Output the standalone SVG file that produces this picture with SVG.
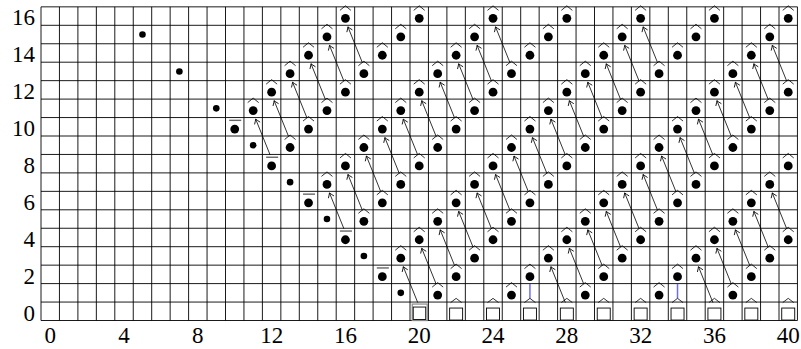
<svg xmlns="http://www.w3.org/2000/svg" xmlns:xlink="http://www.w3.org/1999/xlink" width="801" height="349" viewBox="0 0 801 349">
<style>
.grid{fill:none;stroke:#000;stroke-width:0.9}
.hat{fill:none;stroke:#000;stroke-width:0.8}
.bar{fill:none;stroke:#666;stroke-width:1.4}
.dot{fill:#000}
.sq{fill:#fff;stroke:#000;stroke-width:0.9}
.sqo{fill:none;stroke:#888;stroke-width:1.2}
.arr{fill:none;stroke:#000;stroke-width:0.8;marker-end:url(#ah)}
.blue{stroke:#6b6bff;stroke-width:1.5}
text{font-family:Liberation Serif,serif;font-size:23px;fill:#000}
</style>
<defs>
<marker id="ah" markerUnits="userSpaceOnUse" viewBox="-6 -4 8 8" markerWidth="8" markerHeight="8" refX="0" refY="0" orient="auto">
<path d="M-4.5 -3Q-1.5 -0.8 0 0Q-1.5 0.8 -4.5 3" fill="none" stroke="#000" stroke-width="0.8"/>
</marker>
<g id="hd"><path class="hat" d="M-5.5 3.5L0 -1L5.5 3.5"/><circle class="dot" cy="11.5" r="4.4"/></g>
<g id="bd"><path class="bar" d="M-5.5 2.8H6.5"/><circle class="dot" cy="11.5" r="4.4"/></g>
<g id="sm"><circle class="dot" r="3.3"/></g>
<g id="sqh"><path class="hat" d="M-5.5 0.5L0 -3.7L5.5 0.5"/><rect class="sq" x="-6.5" y="6" width="13" height="12"/></g>
<g id="sqn"><rect class="sqo" x="-7" y="2" width="15" height="16.5"/><rect class="sq" x="-6" y="5" width="12.5" height="12.5"/></g>
</defs>
<g id="grid">
<path class="grid" d="M41 6.85V320.5M59.45 6.85V320.5M77.9 6.85V320.5M96.35 6.85V320.5M114.8 6.85V320.5M133.25 6.85V320.5M151.7 6.85V320.5M170.15 6.85V320.5M188.6 6.85V320.5M207.05 6.85V320.5M225.5 6.85V320.5M243.95 6.85V320.5M262.4 6.85V320.5M280.85 6.85V320.5M299.3 6.85V320.5M317.75 6.85V320.5M336.2 6.85V320.5M354.65 6.85V320.5M373.1 6.85V320.5M391.55 6.85V320.5M410 6.85V320.5M428.45 6.85V320.5M446.9 6.85V320.5M465.35 6.85V320.5M483.8 6.85V320.5M502.25 6.85V320.5M520.7 6.85V320.5M539.15 6.85V320.5M557.6 6.85V320.5M576.05 6.85V320.5M594.5 6.85V320.5M612.95 6.85V320.5M631.4 6.85V320.5M649.85 6.85V320.5M668.3 6.85V320.5M686.75 6.85V320.5M705.2 6.85V320.5M723.65 6.85V320.5M742.1 6.85V320.5M760.55 6.85V320.5M779 6.85V320.5M797.45 6.85V320.5M41 320.5H797.45M41 302.05H797.45M41 283.6H797.45M41 265.15H797.45M41 246.7H797.45M41 228.25H797.45M41 209.8H797.45M41 191.35H797.45M41 172.9H797.45M41 154.45H797.45M41 136H797.45M41 117.55H797.45M41 99.1H797.45M41 80.65H797.45M41 62.2H797.45M41 43.75H797.45M41 25.3H797.45M41 6.85H797.45"/>
</g>
<g id="labels">
<text x="50.23" y="343" text-anchor="middle">0</text>
<text x="124.03" y="343" text-anchor="middle">4</text>
<text x="197.83" y="343" text-anchor="middle">8</text>
<text x="271.63" y="343" text-anchor="middle">12</text>
<text x="345.43" y="343" text-anchor="middle">16</text>
<text x="419.23" y="343" text-anchor="middle">20</text>
<text x="493.03" y="343" text-anchor="middle">24</text>
<text x="566.83" y="343" text-anchor="middle">28</text>
<text x="640.63" y="343" text-anchor="middle">32</text>
<text x="714.43" y="343" text-anchor="middle">36</text>
<text x="788.23" y="343" text-anchor="middle">40</text>
<text x="35" y="320.5" text-anchor="end">0</text>
<text x="35" y="283.6" text-anchor="end">2</text>
<text x="35" y="246.7" text-anchor="end">4</text>
<text x="35" y="209.8" text-anchor="end">6</text>
<text x="35" y="172.9" text-anchor="end">8</text>
<text x="35" y="136" text-anchor="end">10</text>
<text x="35" y="99.1" text-anchor="end">12</text>
<text x="35" y="62.2" text-anchor="end">14</text>
<text x="35" y="25.3" text-anchor="end">16</text>
</g>
<g id="connectors">
<line class="arr" x1="270.13" y1="154.95" x2="255.68" y2="119.1"/>
<line class="arr" x1="288.58" y1="136.5" x2="274.13" y2="100.65"/>
<line class="arr" x1="307.03" y1="118.05" x2="292.58" y2="82.2"/>
<line class="arr" x1="325.48" y1="99.6" x2="311.03" y2="63.75"/>
<line class="arr" x1="343.93" y1="81.15" x2="329.48" y2="45.3"/>
<line class="arr" x1="362.38" y1="62.7" x2="347.93" y2="26.85"/>
<line class="arr" x1="343.93" y1="228.75" x2="329.48" y2="192.9"/>
<line class="arr" x1="362.38" y1="210.3" x2="347.93" y2="174.45"/>
<line class="arr" x1="380.83" y1="191.85" x2="366.38" y2="156"/>
<line class="arr" x1="399.28" y1="173.4" x2="384.83" y2="137.55"/>
<line class="arr" x1="417.73" y1="154.95" x2="403.28" y2="119.1"/>
<line class="arr" x1="436.18" y1="136.5" x2="421.73" y2="100.65"/>
<line class="arr" x1="454.63" y1="118.05" x2="440.18" y2="82.2"/>
<line class="arr" x1="473.08" y1="99.6" x2="458.63" y2="63.75"/>
<line class="arr" x1="491.53" y1="81.15" x2="477.08" y2="45.3"/>
<line class="arr" x1="509.98" y1="62.7" x2="495.53" y2="26.85"/>
<line class="arr" x1="417.73" y1="302.55" x2="403.28" y2="266.7"/>
<line class="arr" x1="436.18" y1="284.1" x2="421.73" y2="248.25"/>
<line class="arr" x1="454.63" y1="265.65" x2="440.18" y2="229.8"/>
<line class="arr" x1="473.08" y1="247.2" x2="458.63" y2="211.35"/>
<line class="arr" x1="491.53" y1="228.75" x2="477.08" y2="192.9"/>
<line class="arr" x1="509.98" y1="210.3" x2="495.53" y2="174.45"/>
<line class="arr" x1="528.43" y1="191.85" x2="513.98" y2="156"/>
<line class="arr" x1="546.88" y1="173.4" x2="532.43" y2="137.55"/>
<line class="arr" x1="565.33" y1="154.95" x2="550.88" y2="119.1"/>
<line class="arr" x1="583.78" y1="136.5" x2="569.33" y2="100.65"/>
<line class="arr" x1="602.23" y1="118.05" x2="587.78" y2="82.2"/>
<line class="arr" x1="620.68" y1="99.6" x2="606.23" y2="63.75"/>
<line class="arr" x1="639.13" y1="81.15" x2="624.68" y2="45.3"/>
<line class="arr" x1="657.58" y1="62.7" x2="643.13" y2="26.85"/>
<line class="arr" x1="565.33" y1="302.55" x2="550.88" y2="266.7"/>
<line class="arr" x1="583.78" y1="284.1" x2="569.33" y2="248.25"/>
<line class="arr" x1="602.23" y1="265.65" x2="587.78" y2="229.8"/>
<line class="arr" x1="620.68" y1="247.2" x2="606.23" y2="211.35"/>
<line class="arr" x1="639.13" y1="228.75" x2="624.68" y2="192.9"/>
<line class="arr" x1="657.58" y1="210.3" x2="643.13" y2="174.45"/>
<line class="arr" x1="676.03" y1="191.85" x2="661.58" y2="156"/>
<line class="arr" x1="694.48" y1="173.4" x2="680.03" y2="137.55"/>
<line class="arr" x1="712.93" y1="154.95" x2="698.48" y2="119.1"/>
<line class="arr" x1="731.38" y1="136.5" x2="716.93" y2="100.65"/>
<line class="arr" x1="749.83" y1="118.05" x2="735.38" y2="82.2"/>
<line class="arr" x1="768.28" y1="99.6" x2="753.83" y2="63.75"/>
<line class="arr" x1="786.73" y1="81.15" x2="772.28" y2="45.3"/>
<line class="arr" x1="712.93" y1="302.55" x2="698.48" y2="266.7"/>
<line class="arr" x1="731.38" y1="284.1" x2="716.93" y2="248.25"/>
<line class="arr" x1="749.83" y1="265.65" x2="735.38" y2="229.8"/>
<line class="arr" x1="768.28" y1="247.2" x2="753.83" y2="211.35"/>
<line class="arr" x1="786.73" y1="228.75" x2="772.28" y2="192.9"/>
<line class="blue" x1="529.93" y1="284" x2="529.93" y2="298.4"/>
<line class="blue" x1="677.53" y1="284" x2="677.53" y2="298.4"/>
</g>
<g id="small-dots">
<g id="s5_15"><use href="#sm" x="142.48" y="34.53"/></g>
<g id="s7_13"><use href="#sm" x="179.38" y="71.43"/></g>
<g id="s9_11"><use href="#sm" x="216.28" y="108.33"/></g>
<g id="s11_9"><use href="#sm" x="253.18" y="145.23"/></g>
<g id="s13_7"><use href="#sm" x="290.08" y="182.13"/></g>
<g id="s15_5"><use href="#sm" x="326.98" y="219.03"/></g>
<g id="s17_3"><use href="#sm" x="363.88" y="255.93"/></g>
<g id="s19_1"><use href="#sm" x="400.78" y="292.83"/></g>
</g>
<g id="bar-dots">
<g id="b10_10"><use href="#bd" x="234.73" y="117.55"/></g>
<g id="b12_8"><use href="#bd" x="271.63" y="154.45"/></g>
<g id="b14_6"><use href="#bd" x="308.53" y="191.35"/></g>
<g id="b16_4"><use href="#bd" x="345.43" y="228.25"/></g>
<g id="b18_2"><use href="#bd" x="382.33" y="265.15"/></g>
</g>
<g id="squares">
<g id="q20_0"><use href="#sqn" x="419.23" y="302.05"/></g>
<g id="q22_0"><use href="#sqh" x="456.13" y="302.05"/></g>
<g id="q24_0"><use href="#sqh" x="493.03" y="302.05"/></g>
<g id="q26_0"><use href="#sqh" x="529.93" y="302.05"/></g>
<g id="q28_0"><use href="#sqh" x="566.83" y="302.05"/></g>
<g id="q30_0"><use href="#sqh" x="603.73" y="302.05"/></g>
<g id="q32_0"><use href="#sqh" x="640.63" y="302.05"/></g>
<g id="q34_0"><use href="#sqh" x="677.53" y="302.05"/></g>
<g id="q36_0"><use href="#sqh" x="714.43" y="302.05"/></g>
<g id="q38_0"><use href="#sqh" x="751.33" y="302.05"/></g>
<g id="q40_0"><use href="#sqh" x="788.23" y="302.05"/></g>
</g>
<g id="hat-dots">
<g id="h11_11"><use href="#hd" x="253.18" y="99.1"/></g>
<g id="h12_12"><use href="#hd" x="271.63" y="80.65"/></g>
<g id="h13_13"><use href="#hd" x="290.08" y="62.2"/></g>
<g id="h14_14"><use href="#hd" x="308.53" y="43.75"/></g>
<g id="h15_15"><use href="#hd" x="326.98" y="25.3"/></g>
<g id="h16_16"><use href="#hd" x="345.43" y="6.85"/></g>
<g id="h13_9"><use href="#hd" x="290.08" y="136"/></g>
<g id="h14_10"><use href="#hd" x="308.53" y="117.55"/></g>
<g id="h15_11"><use href="#hd" x="326.98" y="99.1"/></g>
<g id="h16_12"><use href="#hd" x="345.43" y="80.65"/></g>
<g id="h17_13"><use href="#hd" x="363.88" y="62.2"/></g>
<g id="h18_14"><use href="#hd" x="382.33" y="43.75"/></g>
<g id="h19_15"><use href="#hd" x="400.78" y="25.3"/></g>
<g id="h20_16"><use href="#hd" x="419.23" y="6.85"/></g>
<g id="h15_7"><use href="#hd" x="326.98" y="172.9"/></g>
<g id="h16_8"><use href="#hd" x="345.43" y="154.45"/></g>
<g id="h17_9"><use href="#hd" x="363.88" y="136"/></g>
<g id="h18_10"><use href="#hd" x="382.33" y="117.55"/></g>
<g id="h19_11"><use href="#hd" x="400.78" y="99.1"/></g>
<g id="h20_12"><use href="#hd" x="419.23" y="80.65"/></g>
<g id="h21_13"><use href="#hd" x="437.68" y="62.2"/></g>
<g id="h22_14"><use href="#hd" x="456.13" y="43.75"/></g>
<g id="h23_15"><use href="#hd" x="474.58" y="25.3"/></g>
<g id="h24_16"><use href="#hd" x="493.03" y="6.85"/></g>
<g id="h17_5"><use href="#hd" x="363.88" y="209.8"/></g>
<g id="h18_6"><use href="#hd" x="382.33" y="191.35"/></g>
<g id="h19_7"><use href="#hd" x="400.78" y="172.9"/></g>
<g id="h20_8"><use href="#hd" x="419.23" y="154.45"/></g>
<g id="h21_9"><use href="#hd" x="437.68" y="136"/></g>
<g id="h22_10"><use href="#hd" x="456.13" y="117.55"/></g>
<g id="h23_11"><use href="#hd" x="474.58" y="99.1"/></g>
<g id="h24_12"><use href="#hd" x="493.03" y="80.65"/></g>
<g id="h25_13"><use href="#hd" x="511.48" y="62.2"/></g>
<g id="h26_14"><use href="#hd" x="529.93" y="43.75"/></g>
<g id="h27_15"><use href="#hd" x="548.38" y="25.3"/></g>
<g id="h28_16"><use href="#hd" x="566.83" y="6.85"/></g>
<g id="h19_3"><use href="#hd" x="400.78" y="246.7"/></g>
<g id="h20_4"><use href="#hd" x="419.23" y="228.25"/></g>
<g id="h21_5"><use href="#hd" x="437.68" y="209.8"/></g>
<g id="h22_6"><use href="#hd" x="456.13" y="191.35"/></g>
<g id="h23_7"><use href="#hd" x="474.58" y="172.9"/></g>
<g id="h24_8"><use href="#hd" x="493.03" y="154.45"/></g>
<g id="h25_9"><use href="#hd" x="511.48" y="136"/></g>
<g id="h26_10"><use href="#hd" x="529.93" y="117.55"/></g>
<g id="h27_11"><use href="#hd" x="548.38" y="99.1"/></g>
<g id="h28_12"><use href="#hd" x="566.83" y="80.65"/></g>
<g id="h29_13"><use href="#hd" x="585.28" y="62.2"/></g>
<g id="h30_14"><use href="#hd" x="603.73" y="43.75"/></g>
<g id="h31_15"><use href="#hd" x="622.18" y="25.3"/></g>
<g id="h32_16"><use href="#hd" x="640.63" y="6.85"/></g>
<g id="h21_1"><use href="#hd" x="437.68" y="283.6"/></g>
<g id="h22_2"><use href="#hd" x="456.13" y="265.15"/></g>
<g id="h23_3"><use href="#hd" x="474.58" y="246.7"/></g>
<g id="h24_4"><use href="#hd" x="493.03" y="228.25"/></g>
<g id="h25_5"><use href="#hd" x="511.48" y="209.8"/></g>
<g id="h26_6"><use href="#hd" x="529.93" y="191.35"/></g>
<g id="h27_7"><use href="#hd" x="548.38" y="172.9"/></g>
<g id="h28_8"><use href="#hd" x="566.83" y="154.45"/></g>
<g id="h29_9"><use href="#hd" x="585.28" y="136"/></g>
<g id="h30_10"><use href="#hd" x="603.73" y="117.55"/></g>
<g id="h31_11"><use href="#hd" x="622.18" y="99.1"/></g>
<g id="h32_12"><use href="#hd" x="640.63" y="80.65"/></g>
<g id="h33_13"><use href="#hd" x="659.08" y="62.2"/></g>
<g id="h34_14"><use href="#hd" x="677.53" y="43.75"/></g>
<g id="h35_15"><use href="#hd" x="695.98" y="25.3"/></g>
<g id="h36_16"><use href="#hd" x="714.43" y="6.85"/></g>
<g id="h25_1"><use href="#hd" x="511.48" y="283.6"/></g>
<g id="h26_2"><use href="#hd" x="529.93" y="265.15"/></g>
<g id="h27_3"><use href="#hd" x="548.38" y="246.7"/></g>
<g id="h28_4"><use href="#hd" x="566.83" y="228.25"/></g>
<g id="h29_5"><use href="#hd" x="585.28" y="209.8"/></g>
<g id="h30_6"><use href="#hd" x="603.73" y="191.35"/></g>
<g id="h31_7"><use href="#hd" x="622.18" y="172.9"/></g>
<g id="h32_8"><use href="#hd" x="640.63" y="154.45"/></g>
<g id="h33_9"><use href="#hd" x="659.08" y="136"/></g>
<g id="h34_10"><use href="#hd" x="677.53" y="117.55"/></g>
<g id="h35_11"><use href="#hd" x="695.98" y="99.1"/></g>
<g id="h36_12"><use href="#hd" x="714.43" y="80.65"/></g>
<g id="h37_13"><use href="#hd" x="732.88" y="62.2"/></g>
<g id="h38_14"><use href="#hd" x="751.33" y="43.75"/></g>
<g id="h39_15"><use href="#hd" x="769.78" y="25.3"/></g>
<g id="h40_16"><use href="#hd" x="788.23" y="6.85"/></g>
<g id="h29_1"><use href="#hd" x="585.28" y="283.6"/></g>
<g id="h30_2"><use href="#hd" x="603.73" y="265.15"/></g>
<g id="h31_3"><use href="#hd" x="622.18" y="246.7"/></g>
<g id="h32_4"><use href="#hd" x="640.63" y="228.25"/></g>
<g id="h33_5"><use href="#hd" x="659.08" y="209.8"/></g>
<g id="h34_6"><use href="#hd" x="677.53" y="191.35"/></g>
<g id="h35_7"><use href="#hd" x="695.98" y="172.9"/></g>
<g id="h36_8"><use href="#hd" x="714.43" y="154.45"/></g>
<g id="h37_9"><use href="#hd" x="732.88" y="136"/></g>
<g id="h38_10"><use href="#hd" x="751.33" y="117.55"/></g>
<g id="h39_11"><use href="#hd" x="769.78" y="99.1"/></g>
<g id="h40_12"><use href="#hd" x="788.23" y="80.65"/></g>
<g id="h33_1"><use href="#hd" x="659.08" y="283.6"/></g>
<g id="h34_2"><use href="#hd" x="677.53" y="265.15"/></g>
<g id="h35_3"><use href="#hd" x="695.98" y="246.7"/></g>
<g id="h36_4"><use href="#hd" x="714.43" y="228.25"/></g>
<g id="h37_5"><use href="#hd" x="732.88" y="209.8"/></g>
<g id="h38_6"><use href="#hd" x="751.33" y="191.35"/></g>
<g id="h39_7"><use href="#hd" x="769.78" y="172.9"/></g>
<g id="h40_8"><use href="#hd" x="788.23" y="154.45"/></g>
<g id="h37_1"><use href="#hd" x="732.88" y="283.6"/></g>
<g id="h38_2"><use href="#hd" x="751.33" y="265.15"/></g>
<g id="h39_3"><use href="#hd" x="769.78" y="246.7"/></g>
<g id="h40_4"><use href="#hd" x="788.23" y="228.25"/></g>
</g>
</svg>
